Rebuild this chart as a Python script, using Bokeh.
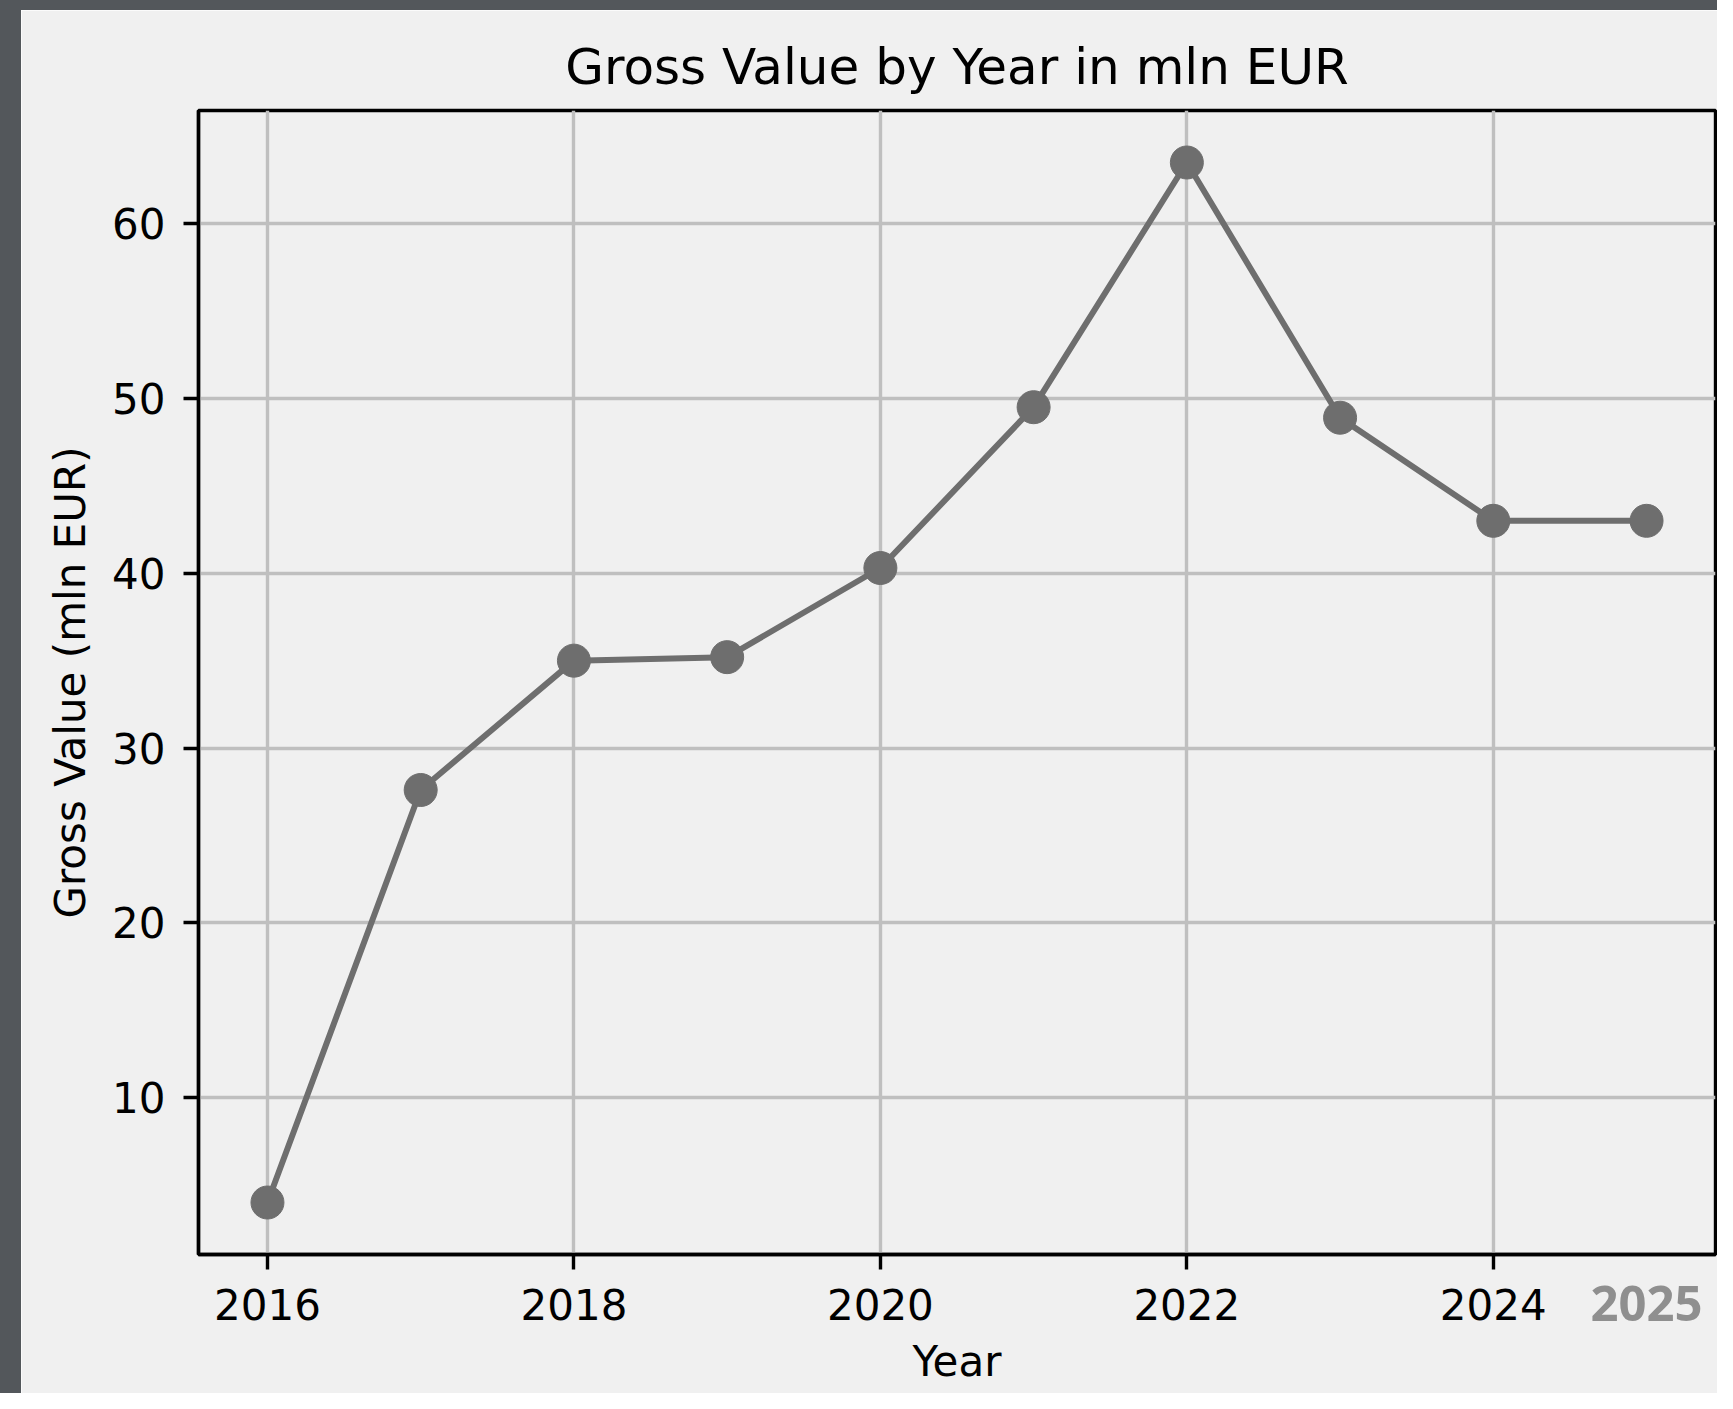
from bokeh.plotting import figure
from bokeh.models import Range1d, FixedTicker, Div, Row, Column, LinearAxis
from bokeh.embed import file_html
from bokeh.resources import INLINE

years = [2016, 2017, 2018, 2019, 2020, 2021, 2022, 2023, 2024, 2025]
gross_value = [4.0, 27.6, 35.0, 35.2, 40.3, 49.5, 63.5, 48.9, 43.0, 43.0]
x_ticks = [2016, 2018, 2020, 2022, 2024]
y_ticks = [10, 20, 30, 40, 50, 60]
extra_tick = [2025]

PANEL = "#f0f0f0"
DARK = "#53575b"
FONT = "DejaVu Sans"

FIG_W, FIG_H = 1696, 1383

xpad = (max(years) - min(years)) * 0.05
ypad = (max(gross_value) - min(gross_value)) * 0.05

p = figure(width=FIG_W, height=FIG_H, output_backend="svg", toolbar_location=None,
           x_range=Range1d(min(years) - xpad, max(years) + xpad),
           y_range=Range1d(min(gross_value) - ypad, max(gross_value) + ypad),
           min_border_left=177, min_border_right=2, min_border_top=100, min_border_bottom=139,
           background_fill_color=PANEL, border_fill_color=PANEL)

p.title.text = "Gross Value by Year in mln EUR"
p.title.text_font = FONT
p.title.text_font_size = "50px"
p.title.text_font_style = "normal"
p.title.text_color = "black"
p.title.align = "center"
p.title.standoff = 30

p.outline_line_color = "black"
p.outline_line_width = 3.4

for ax in (p.xaxis[0], p.yaxis[0]):
    ax.axis_line_color = "black"
    ax.axis_line_width = 3.4
    ax.major_tick_line_color = "black"
    ax.major_tick_line_width = 3.4
    ax.major_tick_out = 15
    ax.major_tick_in = 0
    ax.minor_tick_line_color = None
    ax.major_label_text_font = FONT
    ax.major_label_text_font_size = "42px"
    ax.major_label_text_color = "black"
    ax.axis_label_text_font = FONT
    ax.axis_label_text_font_size = "42px"
    ax.axis_label_text_font_style = "normal"
    ax.axis_label_text_color = "black"
    ax.axis_label_standoff = 14

p.xaxis[0].major_label_standoff = 19
p.yaxis[0].major_label_standoff = 18

p.xaxis[0].ticker = FixedTicker(ticks=x_ticks)
p.yaxis[0].ticker = FixedTicker(ticks=y_ticks)
p.xaxis[0].axis_label = "Year"
p.yaxis[0].axis_label = "Gross Value (mln EUR)"

p.grid.grid_line_color = "#bfbfbf"
p.grid.grid_line_width = 3.4

p.line(years, gross_value, line_color="#6e6e6e", line_width=6)
p.scatter(years, gross_value, size=33, fill_color="#6e6e6e", line_color="#6e6e6e")

# bold grey "2025" label sitting on the tick-label row, right of 2024
ax2 = LinearAxis(ticker=FixedTicker(ticks=extra_tick), axis_line_color=None,
                 major_tick_line_color=None, minor_tick_line_color=None,
                 major_label_standoff=-109, major_label_text_font="Noto Sans",
                 major_label_text_font_style="bold", major_label_text_font_size="49px",
                 major_label_text_color="#8f8f8f")
p.add_layout(ax2, "below")

left_strip = Div(width=21, height=FIG_H + 10, styles={"background-color": DARK}, margin=0)
top_strip = Div(width=FIG_W, height=10, styles={"background-color": DARK}, margin=0)
layout = Row(children=[left_strip, Column(children=[top_strip, p], spacing=0)], spacing=0)

open("out.html", "w").write(file_html(layout, INLINE))
